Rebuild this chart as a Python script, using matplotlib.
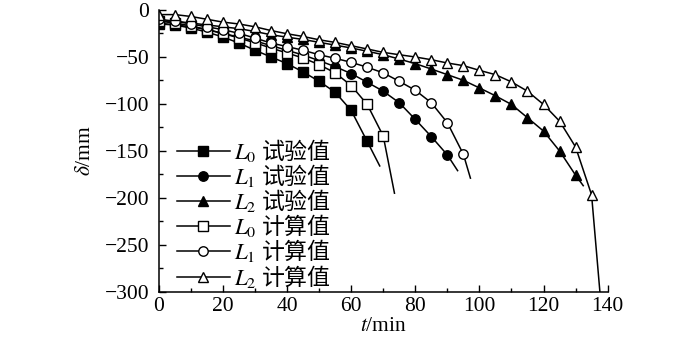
import matplotlib
matplotlib.use('Agg')
import matplotlib.pyplot as plt
from matplotlib.font_manager import FontProperties
import numpy as np

plt.rcParams['font.family'] = ['Liberation Serif', 'Noto Sans CJK SC']
plt.rcParams['mathtext.fontset'] = 'stix'

# time of the marked points (min)
t0 = [0, 5, 10, 15, 20, 25, 30, 35, 40, 45, 50, 55, 60, 65]
t0c = t0 + [70]
t1 = t0 + [70, 75, 80, 85, 90]
t1c = t1 + [95]
t2 = t1c + [100, 105, 110, 115, 120, 125, 130]
t2c = t2 + [135]

# deflection (mm)
L0_test = [-15, -16, -19.4, -23.6, -28.9, -35.3, -43, -50.1, -57.2, -66, -76, -87.6, -107, -140]
L1_test = [-14, -16, -18, -21, -25, -29, -33, -38, -43, -48, -54, -60.4, -67.8, -77, -86.5,
           -98.8, -116.5, -134.8, -154.3]
L2_test = [-12, -12, -14, -16, -18, -20, -23, -26.5, -29, -31.5, -34.5, -37.5, -40.5, -44, -47.7,
           -52.3, -57.2, -62.9, -68.9, -74.9, -83, -91.4, -100.6, -114.7, -128.9, -150, -175.8]
L0_calc = [-12, -14, -17, -21, -25, -30, -35, -40.6, -45.9, -51.2, -58.3, -67, -80.5, -100.6, -134.2]
L1_calc = [-10, -12, -15, -18, -21, -25, -30, -35.3, -39, -43, -47.7, -51.5, -55.8, -61, -67,
           -76, -85.5, -98.8, -120, -153.6]
L2_calc = [-5, -5, -7, -10, -13, -15, -18, -22, -25.4, -28.3, -31.8, -34.6, -38.1, -41.6, -45.2,
           -47.7, -50.1, -53, -56.5, -59.3, -64.3, -68.9, -76.6, -86.5, -100.6, -118.3, -145.8, -196.7]

# end of each curve after the last marker
ends = {
    'L0_test': (68.9, -166), 'L1_test': (93.2, -171), 'L2_test': (132.4, -187),
    'L0_calc': (73.5, -195), 'L1_calc': (97.2, -179), 'L2_calc': (137.6, -300),
}

series = [
    ('L0_test', t0, L0_test, 's', 'k', r'$L_0$ 试验值'),
    ('L1_test', t1, L1_test, 'o', 'k', r'$L_1$ 试验值'),
    ('L2_test', t2, L2_test, '^', 'k', r'$L_2$ 试验值'),
    ('L0_calc', t0c, L0_calc, 's', 'w', r'$L_0$ 计算值'),
    ('L1_calc', t1c, L1_calc, 'o', 'w', r'$L_1$ 计算值'),
    ('L2_calc', t2c, L2_calc, '^', 'w', r'$L_2$ 计算值'),
]

fig = plt.figure(figsize=(7, 3.41), dpi=100)
ax = fig.add_axes([0.227, 0.144, 0.641, 0.827])

for key, t, d, m, fc, lab in series:
    x = list(t) + [ends[key][0]]
    y = list(d) + [ends[key][1]]
    ax.plot(x, y, color='k', lw=1.1, marker=m, markersize=6.8, markerfacecolor=fc,
            markeredgecolor='k', markeredgewidth=1.0, markevery=list(range(len(t))),
            label=lab)

ax.set_xlim(0, 140)
ax.set_ylim(-300, 0)
ax.set_xticks(np.arange(0, 141, 20))
ax.set_xticks(np.arange(0, 141, 10), minor=True)
ax.set_yticks(np.arange(-300, 1, 50))
ax.set_yticks(np.arange(-300, 1, 25), minor=True)
ax.set_yticklabels(['\u2212300', '\u2212250', '\u2212200', '\u2212150', '\u2212100', '\u221250', '0'])
ax.tick_params(which='both', direction='in', labelsize=15.5, width=1.0)
ax.tick_params(which='major', length=5)
ax.tick_params(which='minor', length=3)
ax.tick_params(axis='y', pad=7)
ax.spines['top'].set_visible(False)
ax.spines['right'].set_visible(False)
for s in ('left', 'bottom'):
    ax.spines[s].set_linewidth(1.1)

ax.set_xlabel(r'$t$/min', fontsize=15.5, labelpad=1)
ax.set_ylabel(r'$\delta$/mm', fontsize=15.5, labelpad=7)

# chinese legend text needs the CJK face as the base font of the mathtext string
leg_font = FontProperties(family='Noto Sans CJK SC', size=16.5)
leg = ax.legend(loc='upper left', bbox_to_anchor=(0.04, 0.55), frameon=False,
                prop=leg_font, handlelength=2.3, handletextpad=0.2, labelspacing=-0.08,
                borderpad=0, borderaxespad=0)

fig.savefig('out.png', dpi=100)
